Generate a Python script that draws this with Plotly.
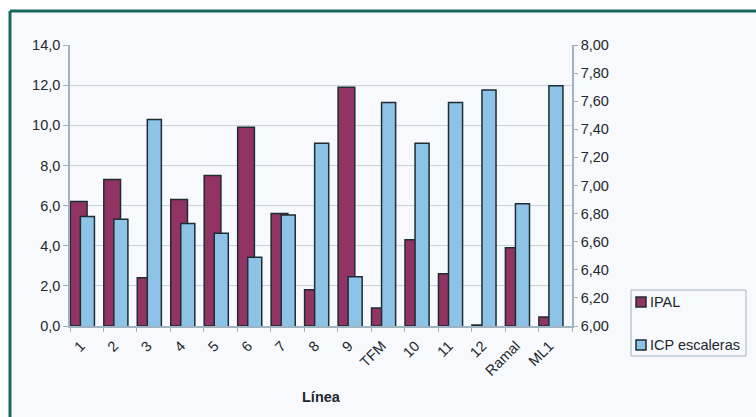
import plotly.graph_objects as go

# Lines (categories) and the two measured indicators
lineas = ["1", "2", "3", "4", "5", "6", "7", "8", "9", "TFM", "10", "11", "12", "Ramal", "ML1"]
ipal = [6.2, 7.3, 2.4, 6.3, 7.5, 9.9, 5.6, 1.8, 11.9, 0.9, 4.3, 2.6, 0.05, 3.9, 0.45]
icp_escaleras = [6.78, 6.76, 7.47, 6.73, 6.66, 6.49, 6.79, 7.30, 6.35, 7.59, 7.30, 7.59, 7.68, 6.87, 7.71]

left_ticks = [0, 2, 4, 6, 8, 10, 12, 14]
right_ticks = [6.0, 6.2, 6.4, 6.6, 6.8, 7.0, 7.2, 7.4, 7.6, 7.8, 8.0]

W, H = 756, 417
L, R, T, B = 70, 184, 45, 91
plot_w = W - L - R
plot_h = H - T - B

BG = "#f8f9fc"
FRAME = "#17665f"
AXIS = "#9fb3c1"
GRID = "#c9d2da"
EDGE = "#1c2d33"
TXT = "#20282e"
MAROON = "#923463"
BLUE = "#8ec3e8"
FONT = "Liberation Sans, Arial, sans-serif"
FS = 14.5

fig = go.Figure()
fig.add_trace(go.Bar(
    x=lineas, y=ipal, name="IPAL", yaxis="y",
    marker=dict(color=MAROON, line=dict(color=EDGE, width=1.5)),
    offset=-0.49, width=0.5,
))
fig.add_trace(go.Bar(
    x=lineas, y=icp_escaleras, name="ICP escaleras", yaxis="y2",
    marker=dict(color=BLUE, line=dict(color=EDGE, width=1.5)),
    offset=-0.19, width=0.42,
))


def px_x(px):
    return (px - L) / plot_w


def px_y(py):
    return (H - B - py) / plot_h


# page frame: pale panel with a dark teal rule on the left and top
fig.add_shape(type="rect", xref="paper", yref="paper", layer="below",
              x0=px_x(10), x1=px_x(W + 5), y0=px_y(H + 5), y1=px_y(11),
              fillcolor=BG, line=dict(width=0))
fig.add_shape(type="line", xref="paper", yref="paper",
              x0=px_x(10), x1=px_x(10), y0=px_y(H + 5), y1=px_y(11),
              line=dict(color=FRAME, width=3))
fig.add_shape(type="line", xref="paper", yref="paper",
              x0=px_x(10), x1=px_x(W + 5), y0=px_y(11), y1=px_y(11),
              line=dict(color=FRAME, width=3))

# legend box drawn by hand
fig.add_shape(type="rect", xref="paper", yref="paper",
              x0=px_x(631), x1=px_x(746), y0=px_y(356), y1=px_y(290),
              line=dict(color=AXIS, width=1), fillcolor="rgba(0,0,0,0)")
legend_items = [("IPAL", MAROON, 302), ("ICP escaleras", BLUE, 345)]
for label, color, cy in legend_items:
    fig.add_shape(type="rect", xref="paper", yref="paper",
                  x0=px_x(636), x1=px_x(646), y0=px_y(cy + 5), y1=px_y(cy - 5),
                  fillcolor=color, line=dict(color=EDGE, width=1.5))
    fig.add_annotation(text=label, xref="paper", yref="paper",
                       x=px_x(648), y=px_y(cy), xanchor="left", yanchor="middle",
                       showarrow=False, font=dict(size=FS, color=TXT, family=FONT))

fig.add_annotation(text="<b>Línea</b>", xref="paper", yref="paper",
                   x=0.5, y=px_y(397), xanchor="center", yanchor="middle",
                   showarrow=False, font=dict(size=FS, color=TXT, family=FONT))

fig.update_layout(
    width=W, height=H,
    margin=dict(l=L, r=R, t=T, b=B),
    paper_bgcolor="white",
    plot_bgcolor=BG,
    separators=",.",
    barmode="overlay",
    showlegend=False,
    font=dict(family=FONT, size=FS, color=TXT),
    xaxis=dict(
        type="category", tickangle=-45, tickson="boundaries",
        ticks="outside", ticklen=4, tickcolor=AXIS,
        showline=True, linecolor=AXIS, linewidth=1.5,
        showgrid=False, range=[-0.5, 14.5],
        ticklabelshift=-6, ticklabelstandoff=4,
        tickfont=dict(size=FS, color=TXT),
    ),
    yaxis=dict(
        range=[0, 14], tickvals=left_ticks, tickformat=".1f",
        showline=True, linecolor=AXIS, linewidth=1.5,
        ticks="outside", ticklen=5, tickcolor=AXIS,
        showgrid=True, gridcolor=GRID, gridwidth=1,
        zeroline=False, tickfont=dict(size=FS, color=TXT),
    ),
    yaxis2=dict(
        overlaying="y", side="right", range=[6, 8],
        tickvals=right_ticks, tickformat=".2f",
        showline=True, linecolor=AXIS, linewidth=1.5,
        ticks="outside", ticklen=4, tickcolor=AXIS,
        showgrid=False, zeroline=False, tickfont=dict(size=FS, color=TXT),
    ),
)

fig.write_html("out.html")
